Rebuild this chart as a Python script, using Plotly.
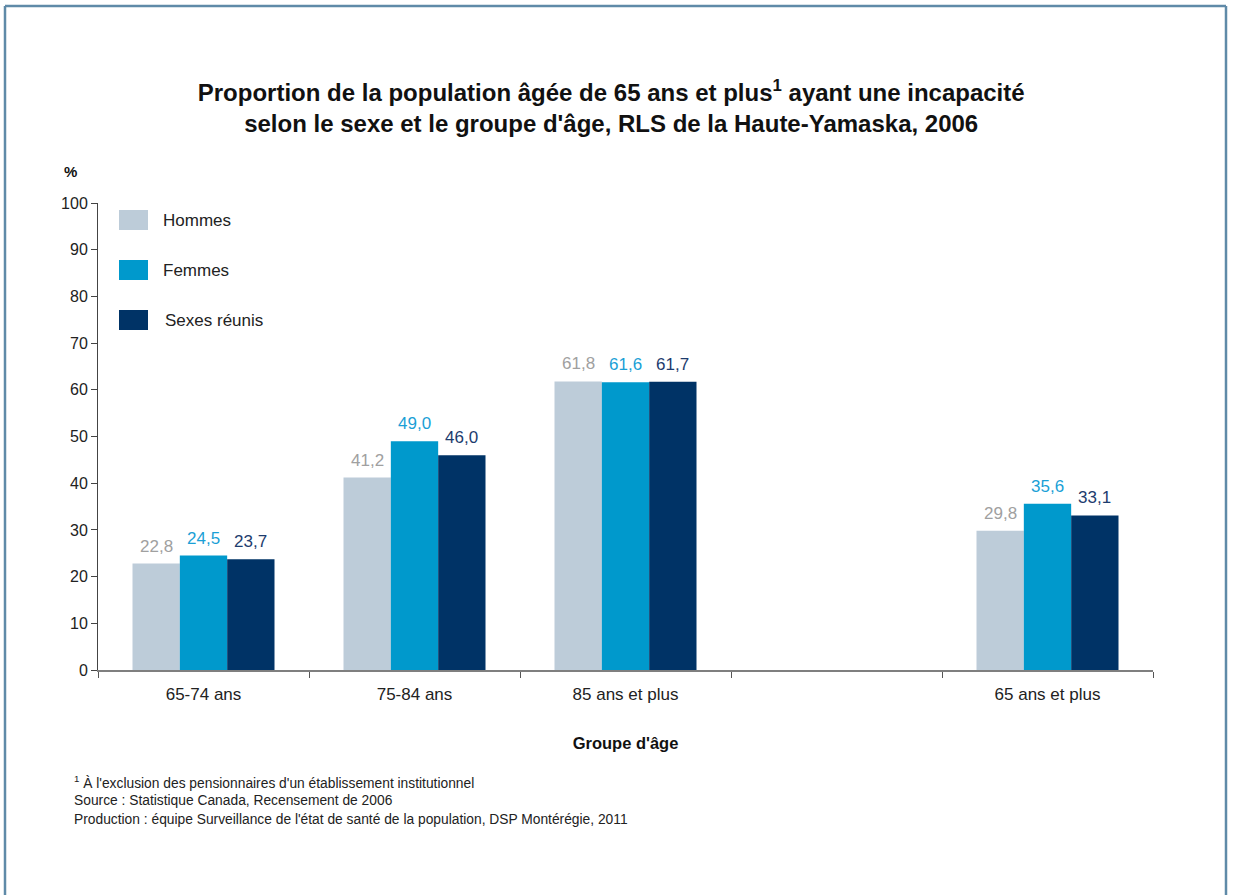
import plotly.graph_objects as go

categories = ["65-74 ans", "75-84 ans", "85 ans et plus", " ", "65 ans et plus"]
hommes = [22.8, 41.2, 61.8, None, 29.8]
femmes = [24.5, 49.0, 61.6, None, 35.6]
sexes_reunis = [23.7, 46.0, 61.7, None, 33.1]
series_names = ["Hommes", "Femmes", "Sexes réunis"]
y_ticks = [0, 10, 20, 30, 40, 50, 60, 70, 80, 90, 100]

bar_colors = ["#bdccd9", "#0099cc", "#003366"]
text_colors = ["#a0a0a0", "#1a9fd6", "#1d3c6e"]

FONT = "Liberation Sans, Arial, sans-serif"

def fmt(v):
    return "" if v is None else f"{v:.1f}".replace(".", ",")

L, R, T, B = 98, 1153, 203, 670
W, H = 1236, 895
BARGAP = 0.327
slot_px = (R - L) / len(categories)
bar_px = slot_px * (1 - BARGAP) / len(series_names)

fig = go.Figure()
all_series = [hommes, femmes, sexes_reunis]
for name, vals, bc in zip(series_names, all_series, bar_colors):
    fig.add_trace(go.Bar(
        name=name, x=categories, y=vals,
        marker=dict(color=bc, line=dict(width=0)),
        showlegend=False, hoverinfo="skip",
    ))

# value labels above each bar
for si, (vals, tc) in enumerate(zip(all_series, text_colors)):
    for cat, v in zip(categories, vals):
        if v is None:
            continue
        fig.add_annotation(x=cat, y=v, xref="x", yref="y", text=fmt(v), showarrow=False,
                           xanchor="center", yanchor="bottom",
                           xshift=(si - 1) * bar_px, yshift=6,
                           font=dict(family=FONT, size=17, color=tc))

fig.update_layout(
    width=W, height=H,
    margin=dict(l=L, r=W - R, t=T, b=H - B, pad=0),
    paper_bgcolor="white", plot_bgcolor="white",
    barmode="group", bargap=BARGAP, bargroupgap=0,
    font=dict(family=FONT, size=16, color="#222222"),
    title=dict(
        text="Proportion de la population âgée de 65 ans et plus<sup>1</sup> ayant une incapacité<br>selon le sexe et le groupe d'âge, RLS de la Haute-Yamaska, 2006",
        x=0.4945, xanchor="center", y=1 - 101 / H, yanchor="top",
        font=dict(family=FONT, size=24, color="#111111", weight="bold"),
    ),
    xaxis=dict(
        type="category", categoryorder="array", categoryarray=categories,
        range=[-0.5, 4.5], showline=True, linecolor="#7f7f7f", linewidth=2,
        ticks="outside", tickson="boundaries", ticklen=6, tickcolor="#555555", tickwidth=1,
        tickfont=dict(family=FONT, size=17, color="#222222"), ticklabelstandoff=8,
        showgrid=False, zeroline=False,
        title=dict(text="<b>Groupe d'âge</b>", font=dict(family=FONT, size=16.5, color="#111111"), standoff=34),
    ),
    yaxis=dict(
        range=[0, 100], tickvals=y_ticks, showline=True, linecolor="#444444", linewidth=1,
        ticks="outside", ticklen=6, tickcolor="#444444",
        tickfont=dict(family=FONT, size=16, color="#222222"),
        showgrid=False, zeroline=False,
    ),
)

frame = dict(type="line", xref="paper", yref="paper", line=dict(color="#5f8aa8", width=2.5))
def px(x):
    return (x - L) / (R - L)
def py(y):
    return (B - y) / (B - T)
fig.add_shape(**frame, x0=px(5), x1=px(1226), y0=py(6), y1=py(6))
fig.add_shape(**frame, x0=px(5), x1=px(5), y0=py(6), y1=py(H + 5))
fig.add_shape(**frame, x0=px(1226), x1=px(1226), y0=py(6), y1=py(H + 5))

for i, (name, bc) in enumerate(zip(series_names, bar_colors)):
    yc = 220 + 50 * i
    fig.add_shape(type="rect", xref="paper", yref="paper",
                  x0=px(119), x1=px(148), y0=py(yc + 10), y1=py(yc - 10),
                  fillcolor=bc, line=dict(width=0))
    fig.add_annotation(xref="paper", yref="paper", x=px(161 if i < 2 else 163), y=py(yc),
                       text=name, showarrow=False, xanchor="left", yanchor="middle",
                       font=dict(family=FONT, size=17, color="#222222"))

fig.add_annotation(xref="paper", yref="paper", x=px(70), y=py(172), text="<b>%</b>",
                   showarrow=False, xanchor="center", yanchor="middle",
                   font=dict(family=FONT, size=15, color="#111111"))

notes = [
    "<sup>1</sup> À l'exclusion des pensionnaires d'un établissement institutionnel",
    "Source : Statistique Canada, Recensement de 2006",
    "Production : équipe Surveillance de l'état de santé de la population, DSP Montérégie, 2011",
]
for i, t in enumerate(notes):
    fig.add_annotation(xref="paper", yref="paper", x=px(72), y=py(782 + 18.5 * i), text=t,
                       showarrow=False, xanchor="left", yanchor="middle",
                       font=dict(family=FONT, size=13.8, color="#222222"))

fig.write_html("out.html", config={"displayModeBar": False},
               post_script="document.body.style.margin='0';document.body.style.padding='0';")
